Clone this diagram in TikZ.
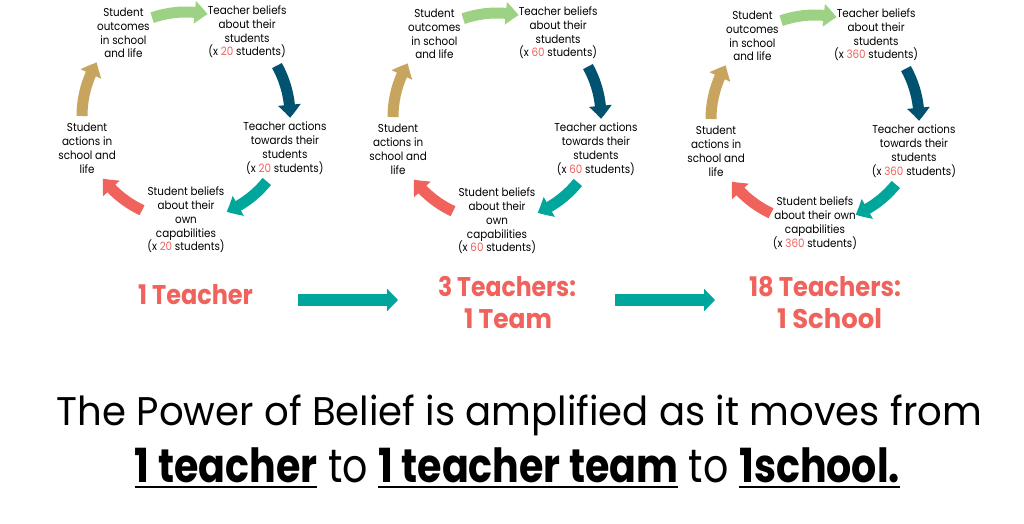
\documentclass[tikz,border=0pt]{standalone}
\usepackage{fontspec}
\setmainfont{Poppins}
\newfontfamily\sm[FakeStretch=0.9]{Poppins}
\usepackage{graphicx}
\usetikzlibrary{arrows.meta,bending,calc}
\definecolor{cred}{RGB}{240,98,92}
\definecolor{cgreen}{RGB}{157,210,132}
\definecolor{cblue}{RGB}{0,82,112}
\definecolor{cteal}{RGB}{0,166,156}
\definecolor{ctan}{RGB}{200,165,95}
\newcommand\num[1]{\textcolor{cred}{#1}}
\newcommand\ulx[1]{\setbox0\hbox{#1}\rlap{\rule[-6.3pt]{\wd0}{2.3pt}}\box0\relax}
\newcommand\mycycle[4]{%
  \coordinate (#1c) at (#2);
  \node[lbl] (#1o)  at ($(#1c)+(127:104)$) {Student\\outcomes\\in school\\and life};
  \node[lbl] (#1tb) at ($(#1c)+(54:104)$) {Teacher beliefs\\about their\\students\\(x \num{#3} students)};
  \node[lbl] (#1ta) at ($(#1c)+(-18:104)$) {Teacher actions\\towards their\\students\\(x \num{#3} students)};
  \node[lbl] (#1sb) at ($(#1c)+(-90:104)$) {#4};
  \node[lbl] (#1sa) at ($(#1c)+(-162:104)$) {Student\\actions in\\school and\\life};
  \draw[carr,cgreen] ($(#1c)+(109:104)$) arc[start angle=109,end angle=78,radius=104];
  \draw[carr,cblue]  ($(#1c)+(29:104)$) arc[start angle=29,end angle=-1,radius=104];
  \draw[carr,cteal]  ($(#1c)+(-39:104)$) arc[start angle=-39,end angle=-67,radius=104];
  \draw[carr,cred]   ($(#1c)+(-115:104)$) arc[start angle=-115,end angle=-143,radius=104];
  \draw[carr,ctan]   ($(#1c)+(180:104)$) arc[start angle=180,end angle=149,radius=104];
}
\begin{document}
\begin{tikzpicture}[x=1pt,y=1pt,
  lbl/.style={font=\sm\fontsize{11.5}{13.8}\selectfont, align=center, text=black, inner sep=0pt},
  carr/.style={line width=11pt, -{Triangle[width=22pt,length=13pt,bend]}},
  barr/.style={line width=12pt, cteal, -{Triangle[width=22pt,length=11pt]}},
  big/.style={font=\bfseries\fontsize{27}{32}\selectfont, text=cred, inner sep=0pt, anchor=base},
  main/.style={inner sep=0pt, anchor=base, text=black}]
\fill[white] (0,0) rectangle (1024,523);
\useasboundingbox (0,0) rectangle (1024,523);

\mycycle{A}{186,407}{20}{Student beliefs\\about their\\own\\capabilities\\(x \num{20} students)}
\mycycle{B}{497,406}{60}{Student beliefs\\about their\\own\\capabilities\\(x \num{60} students)}
\mycycle{C}{815,404}{360}{Student beliefs\\about their own\\capabilities\\(x \num{360} students)}

\node[big] (t1)  at (195.5,219) {\resizebox{115pt}{\height}{1 Teacher}};
\node[big] (t2a) at (507,227)   {\resizebox{138pt}{\height}{3 Teachers:}};
\node[big] (t2b) at (508,195)   {\resizebox{88pt}{\height}{1 Team}};
\node[big] (t3a) at (825,227)   {\resizebox{152pt}{\height}{18 Teachers:}};
\node[big] (t3b) at (829.5,195) {\resizebox{105pt}{\height}{1 School}};

\coordinate (a1s) at (298,223); \coordinate (a1e) at (398,223);
\coordinate (a2s) at (615,223); \coordinate (a2e) at (715,223);
\draw[barr] (a1s) -- (a1e);
\draw[barr] (a2s) -- (a2e);

\node[main, font=\fontsize{40}{48}\selectfont] (m1) at (519.5,98)
  {\resizebox{925pt}{\height}{The Power of Belief is amplified as it moves from}};
\node[main, font=\fontsize{47}{56}\selectfont] (m2) at (517.5,41)
  {\resizebox{765pt}{\height}{\ulx{\bfseries 1 teacher} to \ulx{\bfseries 1 teacher team} to \ulx{\bfseries 1school.}}};
\end{tikzpicture}
\end{document}
